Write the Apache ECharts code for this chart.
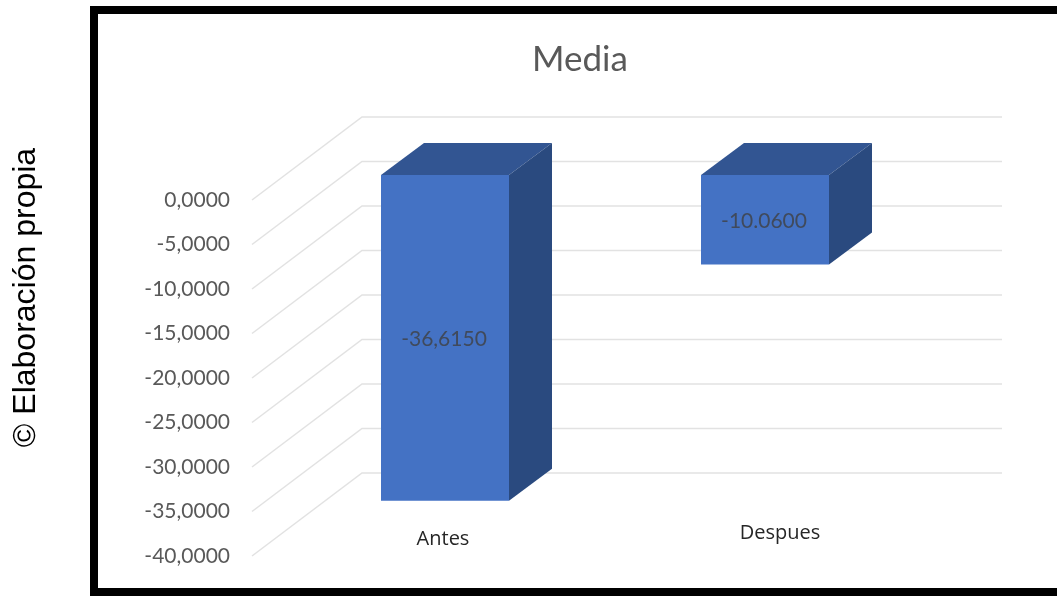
<!DOCTYPE html>
<html>
<head>
<meta charset="utf-8">
<style>
  html, body { margin: 0; padding: 0; background: #fff; }
  #chart { width: 1057px; height: 596px; }
</style>
<script src="https://cdn.jsdelivr.net/npm/echarts@6/dist/echarts.min.js"></script>
</head>
<body>
<div id="chart"></div>
<script>
// Mean values before and after
const categories = ['Antes', 'Despues'];
const meanValues = [-36.615, -10.06];
const valueLabels = ['-36,6150', '-10.0600'];
const gridTicks = [0, -5, -10, -15, -20, -25, -30, -35, -40];

// Oblique projection of the 3D columns and walls, in pixels
const wallDepth = { dx: 110, dy: -83 };
const wallWidth = 640;
const barShift = { x: 33, y: -25 };
const barDepth = { dx: 43, dy: -32 };
const barBandShare = 0.4;
const categoryLabelShift = [{ x: 31, y: -17 }, { x: 48, y: -23 }];

const FACE_FRONT = '#4472c4';
const FACE_TOP = '#325592';
const FACE_SIDE = '#2a4a7f';
const TEXT_FONT = 'Lato, "Open Sans", sans-serif';

function renderWallLine(params, api) {
  const sys = params.coordSys;
  const y = api.coord([0, api.value(1)])[1];
  return {
    type: 'polyline',
    silent: true,
    shape: {
      points: [
        [sys.x, y],
        [sys.x + wallDepth.dx, y + wallDepth.dy],
        [sys.x + wallDepth.dx + wallWidth, y + wallDepth.dy]
      ]
    },
    style: { fill: 'none', stroke: '#e2e2e2', lineWidth: 1.5 }
  };
}

function renderColumn(params, api) {
  const i = api.value(0);
  const top = api.coord([i, 0]);
  const bottom = api.coord([i, api.value(1)]);
  const w = api.size([1, 0])[0] * barBandShare;
  const x0 = top[0] + barShift.x - w / 2;
  const x1 = x0 + w;
  const y0 = top[1] + barShift.y;
  const y1 = bottom[1] + barShift.y;
  const { dx, dy } = barDepth;
  const face = (points, fill) => ({
    type: 'polygon',
    shape: { points },
    style: { fill }
  });
  return {
    type: 'group',
    children: [
      face([[x0, y0], [x1, y0], [x1, y1], [x0, y1]], FACE_FRONT),
      face([[x0, y0], [x0 + dx, y0 + dy], [x1 + dx, y0 + dy], [x1, y0]], FACE_TOP),
      face([[x1, y0], [x1 + dx, y0 + dy], [x1 + dx, y1 + dy], [x1, y1]], FACE_SIDE),
      {
        type: 'text',
        x: (x0 + x1) / 2 - 1,
        y: (y0 + y1) / 2 + 1,
        style: {
          text: valueLabels[i],
          fill: '#404a5c',
          font: '21px ' + TEXT_FONT,
          align: 'center',
          verticalAlign: 'middle'
        }
      },
      {
        type: 'text',
        x: api.coord([i, -40])[0] + categoryLabelShift[i].x,
        y: api.coord([i, -40])[1] + categoryLabelShift[i].y,
        style: {
          text: categories[i],
          fill: '#262626',
          font: '20px "Open Sans", sans-serif',
          align: 'center',
          verticalAlign: 'middle'
        }
      }
    ]
  };
}

const chart = echarts.init(document.getElementById('chart'), null, { renderer: 'canvas' });
chart.setOption({
  animation: false,
  backgroundColor: '#ffffff',
  title: {
    text: 'Media',
    left: 575,
    top: 37,
    textAlign: 'center',
    textStyle: { fontFamily: TEXT_FONT, fontSize: 35, fontWeight: 'normal', color: '#595959' }
  },
  grid: { left: 252, top: 200, width: wallWidth, height: 356 },
  xAxis: {
    type: 'category',
    data: categories,
    axisLine: { show: false },
    axisTick: { show: false },
    axisLabel: { show: false }
  },
  yAxis: {
    type: 'value',
    min: -40,
    max: 0,
    interval: 5,
    axisLine: { show: false },
    axisTick: { show: false },
    splitLine: { show: false },
    axisLabel: {
      margin: 22,
      color: '#595959',
      fontFamily: TEXT_FONT,
      fontSize: 21,
      formatter: v => v.toFixed(4).replace('.', ',')
    }
  },
  graphic: [
    // Heavy frame, open on the right
    { type: 'rect', shape: { x: 90, y: 6, width: 967, height: 8 }, style: { fill: '#000' } },
    { type: 'rect', shape: { x: 90, y: 6, width: 8, height: 590 }, style: { fill: '#000' } },
    { type: 'rect', shape: { x: 90, y: 588, width: 967, height: 8 }, style: { fill: '#000' } },
    {
      type: 'text',
      x: 26,
      y: 297.5,
      rotation: Math.PI / 2,
      style: {
        text: '© Elaboración propia',
        fill: '#000',
        font: '32px "Liberation Sans", Arial, sans-serif',
        align: 'center',
        verticalAlign: 'middle'
      }
    }
  ],
  series: [
    {
      type: 'custom',
      name: 'Rejilla',
      clip: false,
      silent: true,
      z: 1,
      renderItem: renderWallLine,
      encode: { x: 0, y: 1 },
      data: gridTicks.map(t => [0, t])
    },
    {
      type: 'custom',
      name: 'Media',
      clip: false,
      z: 2,
      renderItem: renderColumn,
      encode: { x: 0, y: 1 },
      data: meanValues.map((v, i) => [i, v])
    }
  ]
});
</script>
</body>
</html>
